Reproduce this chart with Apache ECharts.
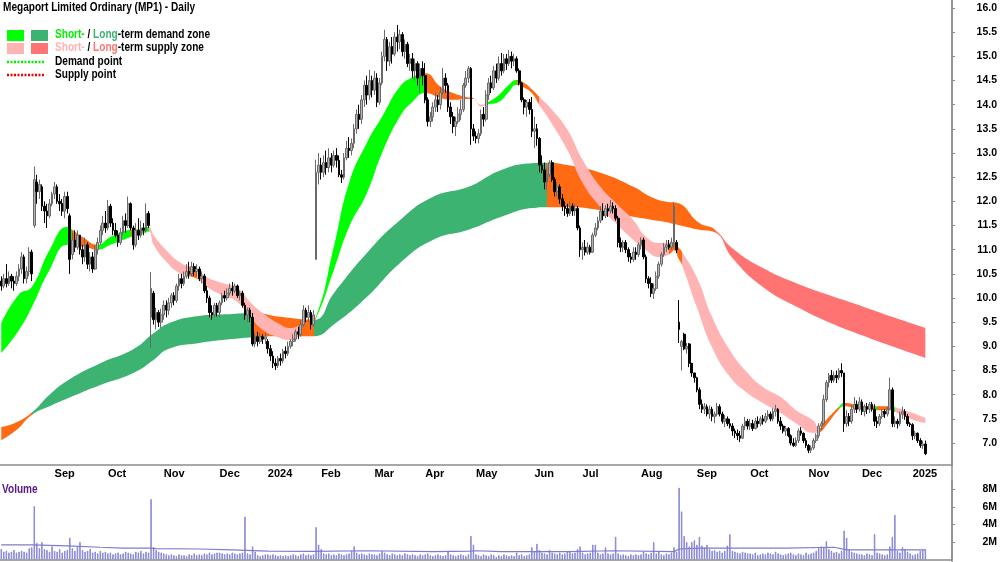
<!DOCTYPE html>
<html>
<head>
<meta charset="utf-8">
<script src="https://cdn.jsdelivr.net/npm/echarts@6/dist/echarts.min.js"></script>
<style>
html, body { margin: 0; padding: 0; background: #fff; }
#chart { width: 1000px; height: 562px; }
</style>
</head>
<body>
<div id="chart"></div>
<script>
var FONT = "'Liberation Sans',Arial,sans-serif";
var NARROW = 0.84; // the reference lettering is a narrow face

// trading-day slots (365 candles + empty space on the right)
var slotCount = 375;
var monthStarts = [21, 42, 64, 86, 105, 126, 147, 167, 187, 210, 229, 252, 274, 295, 318, 339, 359];
var monthLabels = ['Sep', 'Oct', 'Nov', 'Dec', '2024', 'Feb', 'Mar', 'Apr', 'May', 'Jun', 'Jul', 'Aug', 'Sep', 'Oct', 'Nov', 'Dec', '2025'];
var priceTicks = [7.0, 7.5, 8.0, 8.5, 9.0, 9.5, 10.0, 10.5, 11.0, 11.5, 12.0, 12.5, 13.0, 13.5, 14.0, 14.5, 15.0, 15.5, 16.0];
var volumeTicks = [2, 4, 6, 8];

// daily candles: [open, close, low, high]
var ohlc = [
// Aug 2023
[10.35,10.25,10.15,10.45],[10.25,10.40,10.20,10.50],[10.40,10.30,10.22,10.70],[10.30,10.45,10.25,10.55],[10.45,10.35,10.20,10.50],
[10.35,10.30,10.15,10.45],[10.30,10.45,10.25,10.55],[10.45,10.60,10.35,10.70],[10.60,10.85,10.50,10.95],[10.85,10.40,10.30,10.90],
[10.40,10.55,10.30,10.65],[10.55,10.95,10.45,11.05],[10.95,10.50,10.35,11.00],[11.50,12.45,11.45,12.72],[12.40,12.20,11.95,12.55],
[12.20,12.35,12.05,12.45],[12.30,11.90,11.80,12.35],[11.90,11.80,11.55,12.00],[11.80,11.70,11.45,11.95],[11.70,11.95,11.65,12.05],
[11.95,12.15,11.90,12.20],
// Sep 2023
[12.15,12.30,12.05,12.40],[12.30,12.00,11.95,12.35],[12.00,11.95,11.80,12.15],[11.95,11.80,11.70,12.05],[11.80,12.10,11.65,12.20],
[12.10,11.85,11.75,12.20],[11.70,10.80,10.50,11.75],[10.90,11.20,10.80,11.35],[11.20,11.05,10.95,11.40],[11.05,11.30,11.00,11.40],
[11.30,11.00,10.90,11.30],[11.00,10.85,10.70,11.10],[10.85,11.10,10.75,11.25],[11.10,10.70,10.60,11.15],[10.70,10.85,10.55,10.95],
[10.85,10.60,10.52,10.95],[10.60,11.00,10.58,11.10],[11.00,11.15,10.90,11.25],[11.15,11.40,11.10,11.50],[11.40,11.55,11.30,11.70],
[11.55,11.45,11.35,11.80],
// Oct 2023
[11.45,11.90,11.40,12.03],[11.90,11.55,11.47,11.95],[11.55,11.40,11.30,11.65],[11.40,11.30,11.25,11.55],[11.30,11.15,11.06,11.40],
[11.15,11.35,11.10,11.45],[11.35,11.60,11.30,11.70],[11.60,11.50,11.35,11.75],[11.50,11.95,11.45,12.10],[11.95,11.45,11.40,11.98],
[11.45,11.10,11.00,11.50],[11.10,11.40,11.05,11.55],[11.40,11.30,11.20,11.65],[11.30,11.45,11.25,11.60],[11.45,11.40,11.30,11.55],
[11.40,11.75,11.35,11.96],[11.75,11.50,11.45,11.80],[9.60,10.20,8.97,10.54],[10.10,9.55,9.45,10.15],[9.55,9.70,9.35,9.80],
[9.70,9.50,9.40,9.75],[9.50,9.65,9.38,9.78],
// Nov 2023
[9.65,9.85,9.55,9.95],[9.85,9.75,9.60,9.95],[9.75,9.90,9.65,10.00],[9.90,10.05,9.80,10.10],[10.05,9.95,9.85,10.12],
[9.95,10.25,9.90,10.30],[10.25,10.40,10.15,10.50],[10.40,10.30,10.20,10.50],[10.30,10.45,10.25,10.55],[10.45,10.55,10.40,10.70],
[10.55,10.50,10.40,10.75],[10.50,10.65,10.45,10.75],[10.65,10.55,10.45,10.72],[10.55,10.60,10.45,10.70],[10.60,10.40,10.35,10.65],
[10.40,10.45,10.30,10.55],[10.45,10.15,10.10,10.50],[10.15,10.00,9.90,10.25],[10.00,9.70,9.60,10.05],[9.70,9.65,9.55,9.85],
[9.65,9.85,9.60,9.90],[9.85,9.70,9.62,9.90],
// Dec 2023
[9.70,9.90,9.60,9.95],[9.90,10.05,9.85,10.10],[10.05,10.00,9.92,10.15],[10.00,10.10,9.95,10.20],[10.10,10.20,10.05,10.30],
[10.20,10.15,10.05,10.33],[10.15,10.25,10.10,10.30],[10.25,10.05,10.00,10.28],[10.05,10.10,9.95,10.15],[10.10,9.85,9.80,10.15],
[9.85,9.65,9.55,9.90],[9.65,9.75,9.50,9.80],[9.75,9.60,9.50,9.80],[9.60,9.05,9.00,9.69],[9.05,9.20,8.98,9.28],
[9.20,9.10,9.00,9.30],[9.10,9.20,9.05,9.28],[9.20,9.15,9.05,9.25],[9.15,9.20,9.05,9.28],
// Jan 2024
[9.10,8.95,8.85,9.15],[8.95,8.80,8.70,9.03],[8.80,8.65,8.55,8.90],[8.65,8.60,8.51,8.75],[8.60,8.75,8.55,8.80],
[8.75,8.70,8.60,8.85],[8.70,8.90,8.65,8.95],[8.90,8.85,8.75,9.00],[8.85,9.00,8.80,9.10],[9.00,9.10,8.95,9.15],
[9.10,9.15,9.00,9.25],[9.15,9.30,9.10,9.35],[9.30,9.25,9.15,9.40],[9.25,9.45,9.20,9.55],[9.45,9.75,9.40,9.85],
[9.75,9.60,9.50,9.80],[9.60,9.70,9.50,9.85],[9.70,9.45,9.35,9.75],[9.45,9.65,9.40,9.75],[10.80,12.60,10.79,12.86],
[12.60,12.75,12.35,13.00],
// Feb 2024
[12.75,12.60,12.45,12.90],[12.60,12.80,12.50,12.95],[12.80,12.70,12.55,13.05],[12.70,12.90,12.60,13.10],[12.90,12.75,12.60,13.00],
[12.75,12.95,12.70,13.05],[12.95,12.85,12.70,13.10],[12.85,12.55,12.50,12.95],[12.55,12.50,12.38,12.65],[12.50,12.90,12.45,13.00],
[12.90,13.10,12.85,13.25],[13.10,13.05,12.90,13.33],[13.05,13.20,12.95,13.30],[13.20,13.50,13.10,13.60],[13.50,13.80,13.40,13.90],
[13.80,13.70,13.50,14.00],[13.70,14.10,13.60,14.20],[14.10,14.40,13.95,14.50],[14.40,14.20,14.00,14.60],[14.20,14.50,14.10,14.72],
[14.50,14.30,14.15,14.60],
// Mar 2024
[14.30,14.55,14.20,14.70],[14.55,14.05,13.95,14.65],[14.05,14.45,14.00,14.55],[14.45,15.00,14.40,15.10],[15.00,15.35,14.90,15.55],
[15.35,14.90,14.70,15.40],[14.90,15.20,14.80,15.30],[15.20,15.05,14.85,15.40],[15.05,15.40,15.00,15.50],[15.40,15.30,15.10,15.65],
[15.30,15.45,15.15,15.55],[15.45,15.10,15.00,15.50],[15.10,15.25,14.95,15.35],[15.25,14.85,14.78,15.30],[14.85,14.95,14.70,15.05],
[14.95,14.70,14.55,15.07],[14.70,14.85,14.50,14.95],[14.85,14.55,14.40,14.90],[14.55,14.75,14.24,14.85],[14.75,14.60,14.40,14.90],
// Apr 2024
[14.60,14.10,14.03,14.86],[14.10,13.65,13.55,14.15],[13.65,13.75,13.54,13.85],[13.75,13.95,13.65,14.05],[13.95,14.10,13.85,14.25],
[14.10,14.00,13.85,14.20],[14.00,14.25,13.90,14.37],[14.25,14.55,14.20,14.76],[14.55,14.40,14.25,14.65],[14.40,13.95,13.85,14.45],
[13.95,13.75,13.60,14.05],[13.75,13.55,13.41,13.85],[13.55,13.65,13.35,13.75],[13.65,13.80,13.60,13.95],[13.80,13.90,13.68,14.10],
[13.90,14.40,13.85,14.45],[14.40,14.55,14.35,14.70],[14.55,14.75,14.45,14.80],[14.75,13.50,13.17,14.78],[13.50,13.35,13.25,13.60],
// May 2024
[13.35,13.30,13.20,13.45],[13.30,13.40,13.20,13.50],[13.40,13.80,13.35,13.90],[13.80,13.70,13.55,13.95],[13.70,14.20,13.65,14.30],
[14.20,14.45,14.10,14.55],[14.45,14.35,14.24,14.60],[14.35,14.70,14.30,14.80],[14.70,14.55,14.45,14.85],[14.55,14.85,14.50,15.00],
[14.85,14.70,14.60,15.07],[14.70,14.95,14.65,15.05],[14.95,14.85,14.72,15.05],[14.85,15.00,14.80,15.13],[15.00,14.90,14.75,15.10],
[14.90,14.95,14.80,15.05],[14.95,14.70,14.66,15.00],[14.70,14.45,14.40,14.75],[14.45,14.10,14.05,14.47],[14.10,13.95,13.80,14.15],
[13.95,14.05,13.75,14.10],[14.05,13.90,13.80,14.12],[13.90,13.45,13.33,14.16],
// Jun 2024
[13.45,13.50,13.10,13.75],[13.50,13.30,13.15,13.60],[13.30,12.75,12.60,13.33],[12.75,12.65,12.58,12.95],[12.65,12.40,12.25,12.80],
[12.40,12.55,12.23,12.70],[12.55,12.80,12.50,12.85],[12.80,12.45,12.40,12.85],[12.45,12.20,12.10,12.50],[12.20,12.30,12.10,12.40],
[12.30,12.05,11.95,12.35],[12.05,11.90,11.80,12.15],[11.90,11.85,11.70,12.00],[11.85,11.75,11.68,11.95],[11.75,11.90,11.70,12.00],
[11.90,11.80,11.70,11.96],[11.80,11.85,11.70,11.95],[11.85,11.45,11.40,11.90],[11.45,11.00,10.85,11.50],
// Jul 2024
[11.00,11.05,10.79,11.15],[11.05,10.95,10.88,11.20],[10.95,11.05,10.90,11.15],[11.05,10.95,10.90,11.10],[10.95,11.30,10.93,11.35],
[11.30,11.45,11.26,11.55],[11.45,11.60,11.40,11.68],[11.60,11.80,11.55,11.90],[11.80,11.70,11.61,11.96],[11.70,11.85,11.65,11.92],
[11.85,11.80,11.68,11.95],[11.80,11.90,11.75,12.03],[11.90,11.85,11.75,11.98],[11.85,11.65,11.60,11.92],[11.65,11.15,11.05,11.70],
[11.15,11.05,10.95,11.25],[11.05,11.15,10.95,11.20],[11.15,11.00,10.93,11.20],[11.00,10.85,10.75,11.05],[10.85,10.80,10.72,10.93],
[10.80,10.95,10.75,11.05],[10.95,10.90,10.79,11.05],[10.90,11.10,10.85,11.15],
// Aug 2024
[11.10,11.20,11.00,11.26],[11.20,10.85,10.80,11.25],[10.85,10.40,10.31,10.90],[10.40,10.30,10.20,10.45],[10.30,10.10,10.02,10.43],
[10.10,10.20,9.98,10.30],[10.20,10.45,10.15,10.55],[10.45,10.70,10.40,10.75],[10.70,10.90,10.65,10.95],[10.90,11.05,10.85,11.14],
[11.05,11.10,10.95,11.20],[11.10,11.05,11.00,11.20],[11.05,11.15,11.00,11.25],[11.15,11.90,11.05,11.98],[11.15,11.00,10.93,11.20],
[9.50,9.35,9.07,9.96],[9.00,9.10,8.50,9.13],[9.25,8.95,8.92,9.28],[8.95,9.00,8.85,9.07],[9.05,8.65,8.57,9.07],
[8.65,8.45,8.37,8.65],[8.45,8.35,8.25,8.45],
// Sep 2024
[8.35,8.10,8.05,8.37],[8.10,7.80,7.70,8.15],[7.80,7.70,7.62,7.90],[7.70,7.75,7.60,7.83],[7.75,7.60,7.55,7.80],
[7.60,7.70,7.50,7.78],[7.70,7.55,7.45,7.75],[7.55,7.60,7.41,7.65],[7.60,7.75,7.55,7.83],[7.75,7.60,7.55,7.80],
[7.60,7.45,7.40,7.65],[7.45,7.50,7.33,7.58],[7.50,7.40,7.35,7.55],[7.40,7.35,7.30,7.50],[7.35,7.25,7.15,7.41],
[7.25,7.20,7.10,7.30],[7.20,7.15,7.06,7.28],[7.15,7.10,7.02,7.25],[7.10,7.35,7.08,7.40],[7.35,7.45,7.27,7.54],
[7.45,7.35,7.28,7.50],
// Oct 2024
[7.35,7.40,7.27,7.50],[7.40,7.30,7.25,7.48],[7.30,7.45,7.28,7.52],[7.45,7.40,7.32,7.55],[7.40,7.50,7.35,7.55],
[7.50,7.45,7.38,7.58],[7.45,7.55,7.41,7.62],[7.55,7.60,7.48,7.68],[7.60,7.50,7.45,7.65],[7.50,7.65,7.45,7.72],
[7.65,7.70,7.55,7.79],[7.70,7.45,7.40,7.72],[7.45,7.35,7.27,7.54],[7.35,7.25,7.20,7.40],[7.25,7.30,7.15,7.35],
[7.30,7.15,7.12,7.33],[7.15,7.00,6.95,7.18],[7.00,6.95,6.92,7.10],[6.95,7.05,6.92,7.12],[7.05,7.25,7.00,7.30],
[7.25,7.20,7.15,7.33],[7.20,7.05,7.00,7.22],[7.05,6.95,6.90,7.10],
// Nov 2024
[6.95,6.85,6.79,6.98],[6.85,6.90,6.79,6.95],[6.90,7.05,6.86,7.10],[7.05,7.15,7.00,7.20],[7.15,7.35,7.10,7.41],
[7.35,7.40,7.27,7.45],[7.40,7.90,7.38,8.00],[7.90,8.25,7.85,8.30],[8.25,8.40,8.15,8.45],[8.40,8.30,8.24,8.51],
[8.30,8.40,8.25,8.48],[8.40,8.35,8.24,8.50],[8.35,8.50,8.30,8.55],[8.50,8.45,8.37,8.65],[8.45,7.40,7.23,8.45],
[7.40,7.55,7.33,7.68],[7.55,7.45,7.35,7.62],[7.45,7.70,7.40,7.78],[7.70,7.80,7.62,7.95],[7.80,7.70,7.62,7.88],
[7.70,7.85,7.65,7.95],
// Dec 2024
[7.85,7.65,7.58,7.90],[7.65,7.75,7.55,7.80],[7.75,7.70,7.60,7.83],[7.70,7.80,7.62,7.85],[7.80,7.70,7.65,7.85],
[7.70,7.45,7.35,7.80],[7.45,7.40,7.31,7.55],[7.40,7.55,7.35,7.60],[7.55,7.65,7.50,7.70],[7.65,7.60,7.52,7.70],
[7.60,7.70,7.55,7.75],[7.70,8.10,7.68,8.35],[8.10,7.40,7.33,8.15],[7.40,7.45,7.33,7.55],[7.45,7.40,7.30,7.50],
[7.40,7.60,7.35,7.65],[7.60,7.65,7.50,7.75],[7.65,7.55,7.48,7.70],[7.55,7.40,7.35,7.60],[7.40,7.38,7.33,7.43],
// Jan 2025
[7.38,7.15,7.06,7.41],[7.15,7.20,7.08,7.25],[7.20,7.05,7.00,7.22],[7.05,6.95,6.90,7.10],[6.95,6.98,6.88,7.05],
[6.98,6.78,6.75,7.05]
];

// daily volume, millions
var volume = [
1.2,0.9,1.0,0.8,0.9,1.1,0.8,0.9,1.0,0.9,0.8,1.3,1.4,6.1,1.9,1.3,2.0,1.2,1.1,0.9,1.5,
1.0,0.9,1.2,0.8,1.0,1.1,2.5,1.3,1.0,1.5,2.0,1.1,0.9,1.0,1.2,0.8,0.9,0.7,1.0,0.8,0.9,
0.7,0.8,0.6,0.7,0.8,0.6,0.7,0.9,0.8,0.7,0.6,0.9,0.8,1.0,0.7,0.9,0.8,6.9,1.4,1.1,0.9,0.8,
0.7,0.6,0.5,0.6,0.5,0.4,0.6,0.5,0.5,0.4,0.6,0.5,0.7,0.5,0.6,0.5,0.7,0.6,0.8,0.6,0.7,0.8,
0.8,0.7,0.6,0.7,0.6,0.8,0.7,0.6,0.7,0.8,4.9,0.7,0.6,1.5,0.9,0.5,0.4,0.5,0.6,
0.6,0.5,0.6,0.5,0.4,0.5,0.4,0.5,0.4,0.5,0.6,0.5,0.4,0.6,0.7,0.5,0.6,0.5,0.6,3.7,1.7,
1.2,0.7,0.6,0.7,0.5,0.6,0.5,0.7,0.6,0.5,0.6,0.7,1.0,1.5,0.8,0.6,0.7,0.6,0.5,0.7,0.6,
0.6,0.5,0.7,1.0,0.8,0.6,0.5,0.7,0.6,0.5,0.6,0.5,0.7,0.6,0.5,0.6,0.5,0.4,0.6,0.5,
0.6,0.7,0.5,0.4,0.5,0.6,0.5,0.4,0.5,0.9,0.6,0.5,0.4,0.5,0.6,0.5,0.4,0.6,2.7,1.7,
0.6,0.5,0.4,0.6,0.5,0.4,0.6,0.5,0.3,0.5,0.4,0.6,0.5,0.4,0.5,0.4,0.8,0.5,0.6,0.4,0.5,0.6,1.4,
0.9,1.8,1.1,0.8,0.7,0.6,1.1,0.8,0.7,0.6,0.8,0.6,0.7,0.9,1.0,0.7,0.8,1.2,1.5,
0.8,0.6,0.7,0.8,1.7,1.7,0.8,0.6,0.7,1.4,0.7,0.6,0.7,2.6,0.7,0.5,0.6,0.5,0.4,0.6,0.5,0.6,0.5,
0.6,0.9,0.7,0.6,0.8,2.0,0.7,0.9,0.6,0.5,0.7,0.6,0.8,1.4,0.9,8.2,5.5,2.7,2.0,1.5,2.0,2.2,
1.7,2.6,1.6,1.4,1.7,1.2,1.0,1.1,0.9,1.0,0.8,1.0,1.6,2.9,1.0,0.9,0.8,0.7,0.9,0.8,0.7,
0.7,0.6,0.8,0.5,0.6,0.7,0.6,0.8,0.7,0.6,0.9,0.7,0.6,0.5,0.6,0.7,0.8,0.6,0.5,0.7,0.6,0.5,0.8,
0.6,0.7,0.8,1.0,1.3,1.5,1.4,2.1,1.2,1.0,0.8,0.9,0.7,1.0,3.3,2.5,1.2,0.9,0.8,0.7,0.6,
0.6,0.5,0.7,0.6,0.5,2.9,0.8,0.7,0.6,0.5,0.6,1.5,2.6,5.1,1.0,0.8,1.4,1.2,0.9,0.7,
0.5,0.6,0.7,1.0,1.1,1.2
];

// volume average line, read at points: [slot, millions]
var volumeAvg = [
[0,1.66],[12,1.66],[26,1.55],[39,1.40],[48,1.30],[59,1.30],[61,1.25],[78,1.20],[91,1.10],[105,0.95],
[123,0.93],[144,1.00],[170,0.90],[185,0.95],[187,1.00],[197,0.90],[223,0.90],[241,1.00],[265,0.90],
[267,1.20],[275,1.30],[309,1.30],[328,1.40],[333,1.10],[364,1.10]
];

// short-term zone: [slot, lower, upper, zone of the following stretch]
var shortBand = [
[0,8.86,9.48,'sd'],[7,9.34,10.08,'sd'],[12,9.81,10.23,'sd'],[19,10.58,10.99,'sd'],[26,11.10,11.47,'sd'],
[28,11.06,11.41,'x'],[32,11.06,11.26,'x'],[38,11.00,11.10,'sd'],[43,11.10,11.26,'sd'],[51,11.26,11.41,'x'],
[54,11.30,11.42,'sd'],[58,11.37,11.47,'ss'],[60,11.10,11.30,'ss'],[65,10.75,10.99,'ss'],[70,10.52,10.75,'ss'],
[74,10.45,10.65,'x'],[77,10.40,10.60,'ss'],[81,10.23,10.43,'ss'],[87,10.06,10.31,'ss'],[93,9.92,10.21,'ss'],
[98,9.61,9.92,'ss'],[103,9.34,9.69,'ss'],[109,9.19,9.48,'ss'],[114,9.13,9.38,'ss'],[117,9.20,9.42,'x'],
[120,9.30,9.50,'x'],[124,9.58,9.62,'sd'],[131,10.58,11.06,'sd'],[137,11.47,12.38,'sd'],[144,12.17,13.21,'sd'],
[150,13.00,13.75,'sd'],[157,13.75,14.37,'sd'],[162,14.06,14.57,'sd'],[167,14.24,14.65,'x'],[173,14.14,14.37,'x'],
[178,14.10,14.24,'x'],[183,14.12,14.16,'x'],[186,14.12,14.14,'ss'],[189,13.96,14.00,'ss'],[191,14.00,14.03,'sd'],
[196,14.06,14.20,'sd'],[200,14.27,14.41,'sd'],[203,14.41,14.51,'x'],[206,14.35,14.45,'x'],[209,14.24,14.32,'x'],
[212,13.99,14.16,'ss'],[216,13.68,13.95,'ss'],[223,13.06,13.48,'ss'],[229,12.38,12.86,'ss'],[236,11.88,12.30,'ss'],
[242,11.55,11.97,'ss'],[249,11.20,11.61,'ss'],[254,10.99,11.26,'ss'],[259,10.85,11.14,'ss'],[263,10.90,11.14,'x'],
[265,10.99,11.14,'x'],[267,10.79,11.03,'x'],[268,10.70,10.97,'ss'],[274,9.81,10.43,'ss'],[280,8.98,9.61,'ss'],
[287,8.37,8.92,'ss'],[294,8.03,8.45,'ss'],[300,7.83,8.16,'ss'],[307,7.62,7.95,'ss'],[313,7.41,7.68,'ss'],
[320,7.21,7.46,'ss'],[322,7.22,7.30,'x'],[325,7.37,7.48,'x'],[330,7.70,7.75,'sd'],[332,7.76,7.83,'x'],
[339,7.70,7.77,'x'],[344,7.70,7.76,'sd'],[345,7.68,7.76,'x'],[350,7.68,7.76,'sd'],[352,7.64,7.74,'ss'],
[359,7.48,7.62,'ss'],[364,7.41,7.52,'ss']
];

// long-term zone: [slot, lower, upper, zone of the following stretch]
var longBand = [
[0,7.06,7.33,'x'],[6,7.27,7.43,'x'],[12,7.58,7.63,'ld'],[19,7.76,8.00,'ld'],[26,7.92,8.29,'ld'],
[39,8.20,8.65,'ld'],[52,8.45,8.94,'ld'],[60,8.72,9.27,'ld'],[66,8.95,9.48,'ld'],[78,9.07,9.63,'ld'],
[91,9.15,9.67,'ld'],[99,9.19,9.69,'x'],[110,9.21,9.61,'x'],[123,9.21,9.55,'ld'],[131,9.45,10.10,'ld'],
[144,10.02,10.93,'ld'],[157,10.72,11.61,'ld'],[170,11.20,12.09,'ld'],[184,11.41,12.30,'ld'],[197,11.68,12.65,'ld'],
[209,11.86,12.79,'ld'],[215,11.88,12.80,'x'],[223,11.88,12.75,'x'],[236,11.82,12.59,'x'],[249,11.68,12.30,'x'],
[256,11.62,12.09,'x'],[262,11.57,11.99,'x'],[266,11.52,11.97,'x'],[275,11.41,11.55,'x'],[281,11.36,11.42,'ls'],
[288,10.83,11.03,'ls'],[300,10.23,10.62,'ls'],[313,9.83,10.31,'ls'],[326,9.50,10.06,'ls'],[339,9.23,9.83,'ls'],
[352,8.98,9.59,'ls'],[364,8.76,9.38,'ls']
];

var zoneColors = {
    sd: '#00ff00',
    ld: '#3cb371',
    ss: '#ffb3b3',
    ls: '#ff7373',
    x: '#ff6a13'
};

function bandPieces(band) {
    var pieces = [];
    for (var i = 0; i < band.length - 1; i++) {
        pieces.push({ gte: band[i][0], lt: band[i + 1][0], color: zoneColors[band[i][3]] });
    }
    var last = band[band.length - 1];
    pieces.push({ gte: last[0], lte: slotCount, color: zoneColors[last[3]] });
    return pieces;
}

var slots = [];
for (var s = 0; s < slotCount; s++) slots.push(s);

function isMonthStart(idx) {
    return monthStarts.indexOf(idx) >= 0;
}

var chart = echarts.init(document.getElementById('chart'), null, { renderer: 'canvas' });

function narrowText(x, y, text, fill, rich) {
    return {
        type: 'text', x: x, y: y, scaleX: NARROW, originX: 0,
        style: { text: text, font: 'bold 12px ' + FONT, fill: fill, verticalAlign: 'middle', rich: rich }
    };
}

var SMOOTH = 0.5;

var option = {
    animation: false,
    backgroundColor: '#fff',
    grid: [
        { left: 0, right: 48, top: 0, height: 465 },
        { left: 0, right: 48, top: 481, height: 78.5 }
    ],
    xAxis: [
        {
            type: 'category', gridIndex: 0, data: slots, boundaryGap: true,
            axisLine: { lineStyle: { color: '#8c8c8c', width: 1.5 } },
            axisTick: { interval: function (idx) { return isMonthStart(idx); }, length: 3, lineStyle: { color: '#8c8c8c' } },
            axisLabel: {
                interval: function (idx) { return isMonthStart(idx); },
                formatter: function (v) { return monthLabels[monthStarts.indexOf(Number(v))]; },
                align: 'left', margin: 3, fontSize: 11, fontFamily: FONT, fontWeight: 'bold', color: '#000'
            },
            splitLine: { show: false }
        },
        {
            type: 'category', gridIndex: 1, data: slots, boundaryGap: true, position: 'top',
            axisLine: { lineStyle: { color: '#8c8c8c', width: 1.5 } },
            axisTick: { show: false }, axisLabel: { show: false }, splitLine: { show: false }
        }
    ],
    yAxis: [
        {
            type: 'value', gridIndex: 0, position: 'right', min: 6.545, max: 16.166, scale: true,
            splitLine: { show: false },
            axisLine: { show: true, lineStyle: { color: '#8c8c8c', width: 1.5 } },
            axisTick: { show: true, length: 3, customValues: priceTicks, lineStyle: { color: '#8c8c8c' } },
            axisLabel: {
                customValues: priceTicks,
                formatter: function (v) { return v.toFixed(1); },
                align: 'right', margin: 45, fontSize: 10.5, fontFamily: FONT, fontWeight: 'bold', color: '#000'
            }
        },
        {
            type: 'value', gridIndex: 1, position: 'right', min: 0, max: 8.97,
            splitLine: { show: false },
            axisLine: { show: true, lineStyle: { color: '#8c8c8c', width: 1.5 } },
            axisTick: { show: true, length: 3, customValues: volumeTicks, lineStyle: { color: '#8c8c8c' } },
            axisLabel: {
                customValues: volumeTicks,
                formatter: function (v) { return v + 'M'; },
                align: 'right', margin: 45, fontSize: 10.5, fontFamily: FONT, fontWeight: 'bold', color: '#000'
            }
        }
    ],
    visualMap: [
        { type: 'piecewise', show: false, dimension: 0, seriesIndex: 1, pieces: bandPieces(longBand) },
        { type: 'piecewise', show: false, dimension: 0, seriesIndex: 3, pieces: bandPieces(shortBand) }
    ],
    series: [
        {
            name: 'longLow', type: 'line', stack: 'long', silent: true, symbol: 'none', smooth: SMOOTH,
            lineStyle: { opacity: 0 },
            data: longBand.map(function (p) { return [p[0], p[1]]; })
        },
        {
            name: 'longZone', type: 'line', stack: 'long', silent: true, symbol: 'none', smooth: SMOOTH,
            lineStyle: { width: 0 },
            areaStyle: { opacity: 1 },
            data: longBand.map(function (p) { return [p[0], +(p[2] - p[1]).toFixed(3)]; })
        },
        {
            name: 'shortLow', type: 'line', stack: 'short', silent: true, symbol: 'none', smooth: SMOOTH,
            lineStyle: { opacity: 0 },
            data: shortBand.map(function (p) { return [p[0], p[1]]; })
        },
        {
            name: 'shortZone', type: 'line', stack: 'short', silent: true, symbol: 'none', smooth: SMOOTH,
            lineStyle: { width: 0 },
            areaStyle: { opacity: 1 },
            data: shortBand.map(function (p) { return [p[0], +(p[2] - p[1]).toFixed(3)]; })
        },
        {
            name: 'MP1', type: 'candlestick', xAxisIndex: 0, yAxisIndex: 0, z: 5,
            barWidth: 2.2,
            itemStyle: {
                color: '#b4b4b4', borderColor: '#6a6a6a',
                color0: '#000000', borderColor0: '#000000', borderWidth: 1
            },
            data: ohlc
        },
        {
            name: 'Volume', type: 'bar', xAxisIndex: 1, yAxisIndex: 1, barWidth: 1.4,
            itemStyle: { color: '#cacaf0', borderColor: '#7c7cd0', borderWidth: 0.8 },
            data: volume
        },
        {
            name: 'VolumeAvg', type: 'line', xAxisIndex: 1, yAxisIndex: 1, symbol: 'none', z: 3,
            lineStyle: { color: '#7c7cd0', width: 1.2 },
            data: volumeAvg
        }
    ],
    graphic: [
        { type: 'line', shape: { x1: 952, y1: 0, x2: 952, y2: 562 }, style: { stroke: '#8c8c8c', lineWidth: 1.5 } },
        narrowText(3, 8, 'Megaport Limited Ordinary (MP1) - Daily', '#000'),
        { type: 'rect', shape: { x: 7, y: 30, width: 17, height: 11 }, style: { fill: '#00ff00' } },
        { type: 'rect', shape: { x: 31, y: 30, width: 17, height: 11 }, style: { fill: '#3cb371' } },
        { type: 'rect', shape: { x: 7, y: 43, width: 17, height: 11 }, style: { fill: '#ffb3b3' } },
        { type: 'rect', shape: { x: 31, y: 43, width: 17, height: 11 }, style: { fill: '#ff7373' } },
        { type: 'line', shape: { x1: 7, y1: 62, x2: 45, y2: 62 }, style: { stroke: '#00ee00', lineWidth: 2.5, lineDash: [2, 1.5] } },
        { type: 'line', shape: { x1: 7, y1: 75, x2: 45, y2: 75 }, style: { stroke: '#ee0000', lineWidth: 2.5, lineDash: [2, 1.5] } },
        narrowText(55, 35, '{g|Short-} / {d|Long}-term demand zone', '#000', {
            g: { fill: '#00ee00', font: 'bold 12px ' + FONT },
            d: { fill: '#3cb371', font: 'bold 12px ' + FONT }
        }),
        narrowText(55, 48, '{p|Short-} / {r|Long}-term supply zone', '#000', {
            p: { fill: '#ffb3b3', font: 'bold 12px ' + FONT },
            r: { fill: '#ff7373', font: 'bold 12px ' + FONT }
        }),
        narrowText(55, 62, 'Demand point', '#000'),
        narrowText(55, 75, 'Supply point', '#000'),
        narrowText(2, 490, 'Volume', '#5b1a8f')
    ]
};

chart.setOption(option);
</script>
</body>
</html>
